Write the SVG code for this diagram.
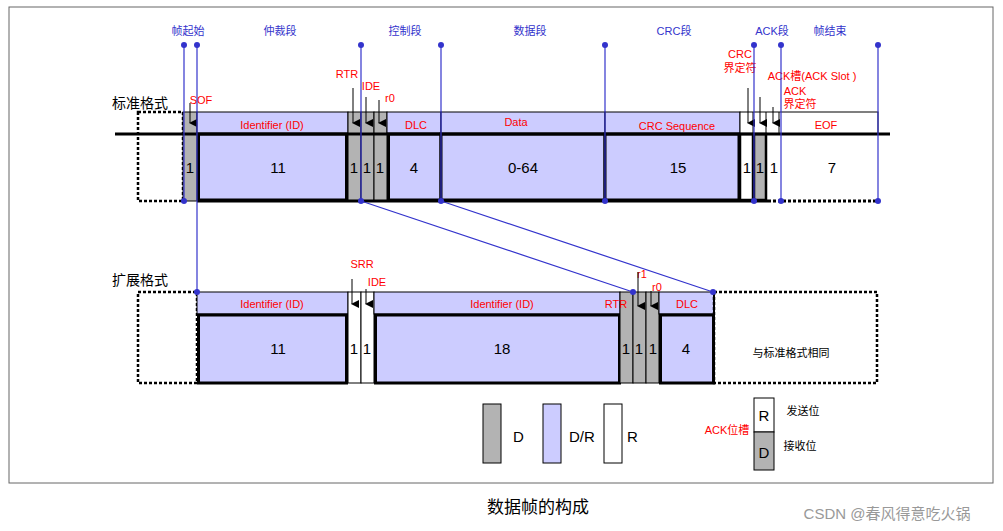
<svg xmlns="http://www.w3.org/2000/svg" width="1003" height="531" viewBox="0 0 1003 531">
<style>
text{font-family:"Liberation Sans","Noto Sans CJK SC",sans-serif}
.lav{fill:#ccccff;stroke:#000;stroke-width:1}
.lavb{fill:#ccccff;stroke:#000;stroke-width:3}
.gr{fill:#b3b3b3;stroke:#000;stroke-width:1}
.wh{fill:#fff;stroke:#000;stroke-width:1}
.dash{fill:#fff;stroke:#000;stroke-width:2.5;stroke-dasharray:3,2}
.red{fill:#ff0000;font-size:11px;text-anchor:middle}
.num{fill:#000;font-size:15px;text-anchor:middle}
.blue{fill:#3333cc;font-size:11px;text-anchor:middle}
.bl{stroke:#3333cc;stroke-width:1.2;fill:none}
.dot{fill:#3333cc}
.ar{stroke:#000;stroke-width:1;marker-end:url(#a)}
</style>
<defs><marker id="a" markerWidth="8" markerHeight="8" refX="4" refY="7" orient="auto" markerUnits="userSpaceOnUse"><path d="M0,0 L8,0 L4,8 z" transform="rotate(-90 4 4) rotate(90 4 4)" fill="#000"/></marker></defs>
<rect x="9" y="7" width="984" height="476" fill="#fff" stroke="#666" stroke-width="1"/>
<g id="top-labels">
<text class="blue" x="188" y="35">帧起始</text><text class="blue" x="280" y="35">仲裁段</text><text class="blue" x="405" y="35">控制段</text><text class="blue" x="530" y="35">数据段</text><text class="blue" x="674" y="35">CRC段</text><text class="blue" x="772" y="35">ACK段</text><text class="blue" x="830" y="35">帧结束</text>
</g>
<g id="std">
<text x="112" y="108" font-size="14">标准格式</text>
<rect class="dash" x="138" y="112" width="45" height="89"/>
<rect class="gr" x="183" y="112" width="14" height="89"/>
<rect class="lav" x="197" y="112" width="151" height="22"/><rect class="lavb" x="198.5" y="134" width="148" height="66"/>
<rect class="gr" x="348" y="112" width="13" height="89"/><rect class="gr" x="361" y="112" width="13" height="89"/><rect class="gr" x="374" y="112" width="13" height="89"/>
<rect class="lav" x="387" y="112" width="54" height="22"/><rect class="lavb" x="388.5" y="134" width="52.5" height="66"/>
<rect class="lav" x="441" y="112" width="164" height="22"/><rect class="lavb" x="441" y="134" width="164" height="66"/>
<rect class="lav" x="605" y="112" width="135" height="22"/><rect class="lavb" x="605" y="134" width="134" height="66"/>
<rect class="wh" x="740" y="112" width="138" height="22"/>
<rect x="740" y="134" width="13" height="66" fill="#fff" stroke="#000" stroke-width="2.5"/>
<rect x="754" y="134" width="12" height="66" fill="#b3b3b3" stroke="#000" stroke-width="2.5"/>
<line x1="766" y1="112" x2="766" y2="134" stroke="#000"/><line x1="753" y1="112" x2="753" y2="134" stroke="#000"/><line x1="779" y1="112" x2="779" y2="134" stroke="#000"/>
<line x1="115" y1="134" x2="890" y2="134" stroke="#000" stroke-width="3"/>
<line x1="197" y1="201" x2="740" y2="201" stroke="#000" stroke-width="3"/>
<line x1="740" y1="201" x2="768" y2="201" stroke="#000" stroke-width="3"/>
<line x1="768" y1="201" x2="878" y2="201" stroke="#000" stroke-width="3" stroke-dasharray="3,2"/>
<text class="red" x="272" y="129">Identifier (ID)</text><text class="red" x="416" y="129">DLC</text><text class="red" x="516" y="126">Data</text><text class="red" x="677" y="130">CRC Sequence</text><text class="red" x="826" y="129">EOF</text>
<text class="num" x="190" y="173">1</text><text class="num" x="278" y="173">11</text><text class="num" x="354" y="173">1</text><text class="num" x="367" y="173">1</text><text class="num" x="380" y="173">1</text><text class="num" x="414" y="173">4</text><text class="num" x="523" y="173">0-64</text><text class="num" x="678" y="173">15</text><text class="num" x="747" y="173">1</text><text class="num" x="760" y="173">1</text><text class="num" x="774" y="173">1</text><text class="num" x="832" y="173">7</text>
<text class="red" x="201" y="104" font-size="9">SOF</text><text class="red" x="347" y="78">RTR</text><text class="red" x="371" y="90">IDE</text><text class="red" x="390" y="102" fill="#ff3300">r0</text>
<text class="red" x="740" y="58">CRC</text><text class="red" x="740" y="72">界定符</text><text class="red" x="812" y="80">ACK槽(ACK Slot )</text><text class="red" x="795" y="95">ACK</text><text class="red" x="800" y="108">界定符</text>
<line class="ar" x1="190" y1="103" x2="190" y2="123"/><line class="ar" x1="353" y1="88" x2="353" y2="123"/><line class="ar" x1="366" y1="97" x2="366" y2="123"/><line class="ar" x1="379" y1="100" x2="379" y2="123"/>
<line class="ar" x1="748" y1="88" x2="748" y2="123"/><line class="ar" x1="760" y1="97" x2="760" y2="123"/><line class="ar" x1="773" y1="107" x2="773" y2="123"/>
</g>
<g id="ext">
<text x="112" y="285" font-size="14">扩展格式</text>
<rect class="dash" x="138" y="292" width="59" height="91"/>
<rect class="lav" x="197" y="292" width="151" height="22"/><rect class="lavb" x="198.5" y="315" width="148" height="68"/>
<rect class="wh" x="348" y="292" width="13" height="91"/><rect class="wh" x="361" y="292" width="13" height="91"/>
<rect class="lav" x="374" y="292" width="246" height="22"/><rect class="lavb" x="375.5" y="315" width="244" height="68"/>
<rect class="gr" x="620" y="292" width="13" height="91"/><rect class="gr" x="633" y="292" width="13" height="91"/><rect class="gr" x="646" y="292" width="13" height="91"/>
<rect class="lav" x="659" y="292" width="55" height="22"/><rect class="lavb" x="660.5" y="315" width="53" height="68"/>
<rect class="dash" x="714" y="292" width="163" height="91"/>
<line x1="714" y1="292" x2="714" y2="383" stroke="#000" stroke-width="2"/>
<text class="red" x="272" y="308">Identifier (ID)</text><text class="red" x="502" y="308">Identifier (ID)</text><text class="red" x="616" y="308">RTR</text><text class="red" x="687" y="308">DLC</text>
<text class="red" x="362" y="268">SRR</text><text class="red" x="377" y="286">IDE</text><text class="red" x="642" y="278">r1</text><text class="red" x="657" y="291">r0</text>
<line class="ar" x1="352" y1="279" x2="352" y2="304"/><line class="ar" x1="366" y1="289" x2="366" y2="304"/><line class="ar" x1="638" y1="272" x2="638" y2="306"/><line class="ar" x1="651" y1="291" x2="651" y2="306"/>
<text class="num" x="278" y="354">11</text><text class="num" x="354" y="354">1</text><text class="num" x="367" y="354">1</text><text class="num" x="502" y="354">18</text><text class="num" x="626" y="354">1</text><text class="num" x="639" y="354">1</text><text class="num" x="653" y="354">1</text><text class="num" x="686" y="354">4</text>
<text x="791" y="357" font-size="11" text-anchor="middle">与标准格式相同</text>
</g>
<g id="connectors">
<line class="bl" x1="184" y1="45" x2="184" y2="201"/><line class="bl" x1="197" y1="45" x2="197" y2="292"/><line class="bl" x1="361" y1="45" x2="361" y2="201"/><line class="bl" x1="441" y1="45" x2="441" y2="201"/><line class="bl" x1="605" y1="45" x2="605" y2="201"/><line class="bl" x1="754" y1="45" x2="754" y2="201"/><line class="bl" x1="781" y1="45" x2="781" y2="201"/><line class="bl" x1="878" y1="45" x2="878" y2="201"/>
<line class="bl" x1="361" y1="201" x2="633" y2="292"/><line class="bl" x1="441" y1="201" x2="713" y2="292"/>
<g class="dot"><circle cx="184" cy="45" r="3"/><circle cx="197" cy="45" r="3"/><circle cx="361" cy="45" r="3"/><circle cx="441" cy="45" r="3"/><circle cx="605" cy="45" r="3"/><circle cx="754" cy="45" r="3"/><circle cx="781" cy="45" r="3"/><circle cx="878" cy="45" r="3"/>
<circle cx="184" cy="201" r="3"/><circle cx="361" cy="201" r="3"/><circle cx="441" cy="201" r="3"/><circle cx="605" cy="201" r="3"/><circle cx="754" cy="201" r="3"/><circle cx="781" cy="201" r="3"/><circle cx="878" cy="201" r="3"/>
<circle cx="197" cy="292" r="3"/><circle cx="633" cy="292" r="3"/><circle cx="713" cy="292" r="3"/></g>
</g>
<g id="legend">
<rect class="gr" x="483" y="404" width="18" height="59"/><text x="513" y="442" font-size="15">D</text>
<rect class="lav" x="543" y="404" width="18" height="59"/><text x="569" y="442" font-size="15">D/R</text>
<rect class="wh" x="604" y="404" width="18" height="59"/><text x="627" y="442" font-size="15">R</text>
<text class="red" x="727" y="434" font-size="11">ACK位槽</text>
<rect class="wh" x="754" y="398" width="20" height="34"/><rect class="gr" x="754" y="432" width="20" height="38"/>
<text x="764" y="421" font-size="15" text-anchor="middle">R</text><text x="764" y="458" font-size="15" text-anchor="middle">D</text>
<text x="803" y="415" font-size="11" text-anchor="middle">发送位</text><text x="800" y="450" font-size="11" text-anchor="middle">接收位</text>
</g>
<text x="538" y="513" font-size="17" text-anchor="middle">数据帧的构成</text>
<text x="887" y="519" font-size="15" fill="#999" text-anchor="middle">CSDN @春风得意吃火锅</text>
</svg>
